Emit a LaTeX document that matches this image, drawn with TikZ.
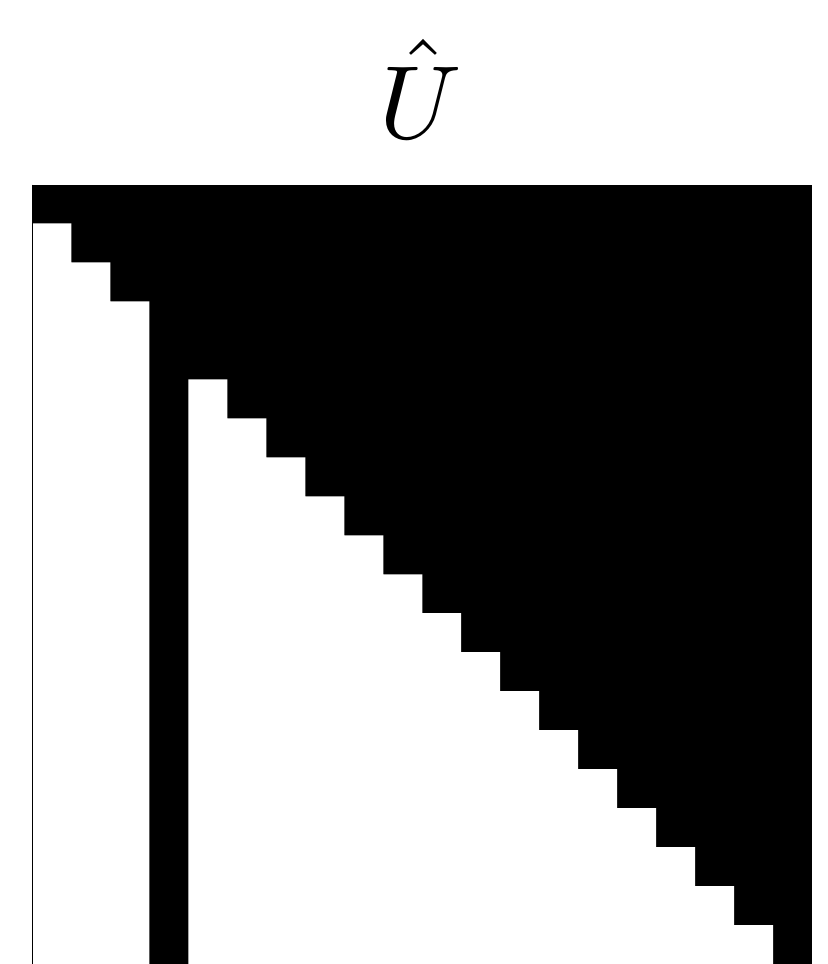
\documentclass[tikz,border=0pt]{standalone}
\usepackage{amsmath}
\usepackage{xcolor}
\definecolor{nz}{RGB}{0,0,0}
\definecolor{zero}{RGB}{255,255,255}

\begin{document}
\begin{tikzpicture}[x=0.5pt,y=-0.5pt]
\useasboundingbox (0,0) rectangle (827,964);
% title
\node[anchor=base,inner sep=0pt,scale=5.2] (title) at (421,138) {$\hat{U}$};
% sparsity pattern, 20x20 cells
\begin{scope}[shift={(16.25pt,-92.25pt)},x=19.4875pt,y=-19.4875pt]
\fill[nz] (0,0) rectangle (20,20);
% zero block left of column 3
\fill[zero] (0,1) \foreach \k in {1,2,3}{ -- (\k,\k) -- (\k,\k+1) } -- (3,20) -- (0,20) -- cycle;
% zero block right of column 3
\fill[zero] (4,5) \foreach \k in {5,...,19}{ -- (\k,\k) -- (\k,\k+1) } -- (19,20) -- (4,20) -- cycle;
\draw[nz,line width=0.75pt] (0,0) -- (0,20);
\end{scope}
\end{tikzpicture}
\end{document}
